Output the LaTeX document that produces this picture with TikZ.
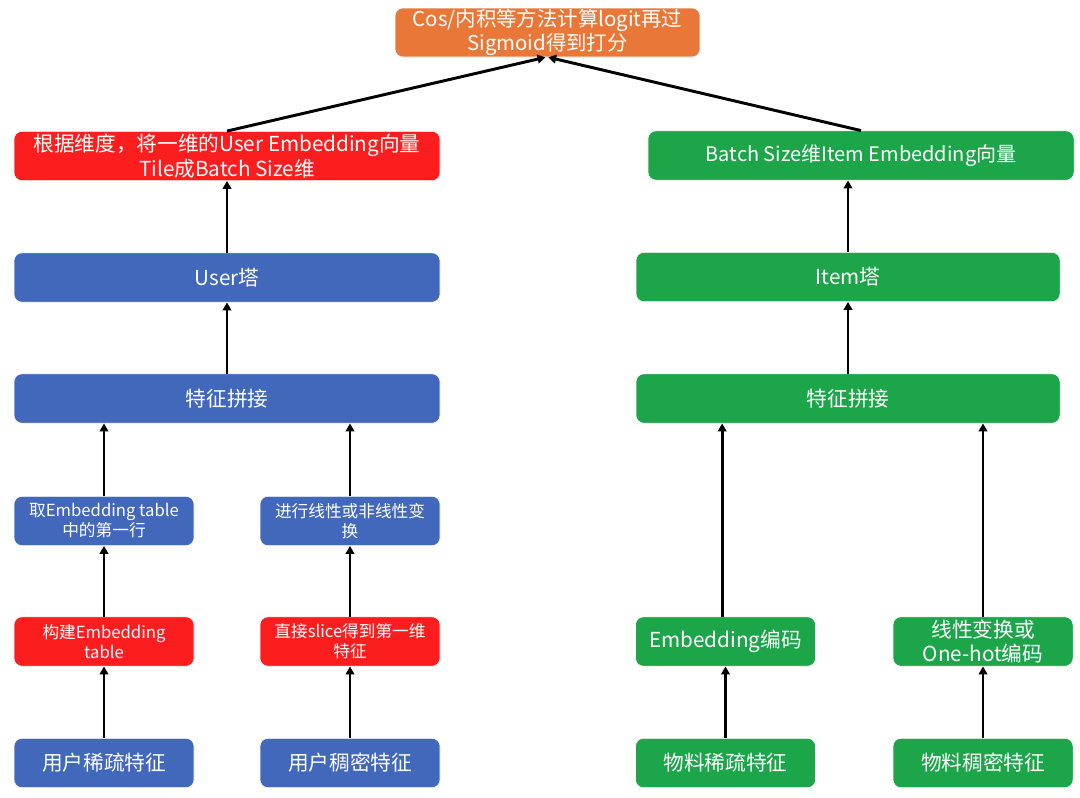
\documentclass[tikz,border=0pt]{standalone}
\usepackage{fontspec}
\setmainfont{Noto Sans CJK SC}
\usetikzlibrary{arrows.meta}
\definecolor{cblue}{HTML}{4268BC}
\definecolor{cred}{HTML}{FC1D1E}
\definecolor{cgreen}{HTML}{1DA54A}
\definecolor{corange}{HTML}{E97838}
\tikzset{
  box/.style={rounded corners=6pt, text=white, align=center, inner sep=0pt,
    draw=white, line width=0.4pt},
  bigw/.style={minimum width=319.5pt, minimum height=37pt},
  smallw/.style={minimum width=135pt, minimum height=37pt},
  bigf/.style={font=\fontsize{15.5}{19}\selectfont},
  smallf/.style={font=\fontsize{12.5}{15}\selectfont},
  arr/.style={draw=black, line width=2.2pt, -{Triangle[length=6pt,width=6.5pt]}},
}
\begin{document}
\begin{tikzpicture}[x=0.75pt,y=-0.75pt]
\useasboundingbox (0,0) rectangle (1080,797);
% top
\node[box, fill=corange, minimum width=228.75pt, minimum height=36.75pt,
  font=\fontsize{15.3}{18.5}\selectfont] (top) at (547.5,32.5)
  {Cos/内积等方法计算logit再过\\Sigmoid得到打分};
% user side
\node[box, bigw, bigf, fill=cred] (ured) at (227,156)
  {根据维度，将一维的User Embedding向量\\Tile成Batch Size维};
\node[box, bigw, bigf, fill=cblue] (utower) at (227,277.5) {User塔};
\node[box, bigw, bigf, fill=cblue] (ucat) at (227,398.5) {特征拼接};
\node[box, smallw, smallf, fill=cblue] (utake) at (104,521) {取Embedding table\\中的第一行};
\node[box, smallw, smallf, fill=cblue] (utrans) at (350,521) {进行线性或非线性变\\换};
\node[box, smallw, smallf, fill=cred] (ubuild) at (104,641.5) {构建Embedding\\table};
\node[box, smallw, smallf, fill=cred] (uslice) at (350,641.5) {直接slice得到第一维\\特征};
\node[box, smallw, bigf, fill=cblue] (usparse) at (104,763) {用户稀疏特征};
\node[box, smallw, bigf, fill=cblue] (udense) at (350,763) {用户稠密特征};
% item side
\node[box, bigw, fill=cgreen, font=\fontsize{15}{19}\selectfont] (gbatch) at (861,155.5) {Batch Size维Item Embedding向量};
\node[box, bigf, fill=cgreen, minimum width=318pt, minimum height=37pt] (gtower) at (848,277) {Item塔};
\node[box, bigf, fill=cgreen, minimum width=318pt, minimum height=37pt] (gcat) at (848,398.5) {特征拼接};
\node[box, smallw, bigf, fill=cgreen] (gemb) at (725.5,641.5) {Embedding编码};
\node[box, smallw, bigf, fill=cgreen, font=\fontsize{15.5}{18}\selectfont] (glin) at (983,641.5) {线性变换或\\One-hot编码};
\node[box, smallw, bigf, fill=cgreen] (gsparse) at (725.5,763) {物料稀疏特征};
\node[box, smallw, bigf, fill=cgreen] (gdense) at (983,763) {物料稠密特征};
% arrows user
\draw[arr] (usparse) -- (ubuild);
\draw[arr] (udense) -- (uslice);
\draw[arr] (ubuild) -- (utake);
\draw[arr] (uslice) -- (utrans);
\draw[arr] (utake.north) -- (utake.north |- ucat.south);
\draw[arr] (utrans.north) -- (utrans.north |- ucat.south);
\draw[arr] (ucat) -- (utower);
\draw[arr] (utower) -- (ured);
\draw[arr] (ured.north) -- ([xshift=-1.5pt]top.south);
% arrows item
\draw[arr] (gsparse) -- (gemb);
\draw[arr] (gdense) -- (glin);
\draw[arr] ([xshift=-2.5pt]gemb.north) -- ([xshift=-2.5pt]gemb.north |- gcat.south);
\draw[arr] (glin.north) -- (glin.north |- gcat.south);
\draw[arr] (gcat) -- (gtower);
\draw[arr] (gtower.north) -- (gtower.north |- gbatch.south);
\draw[arr] (gbatch.north) -- ([xshift=0.5pt]top.south);
\end{tikzpicture}
\end{document}
